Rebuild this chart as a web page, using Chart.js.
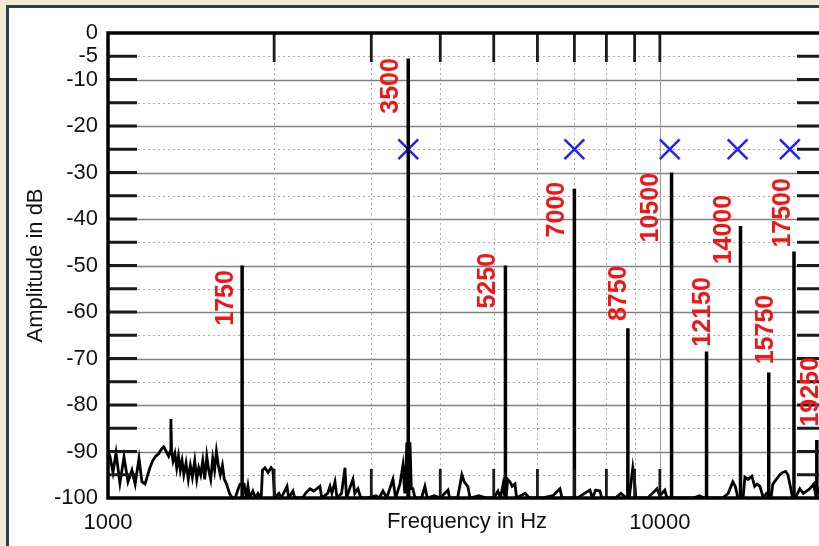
<!DOCTYPE html>
<html>
<head>
<meta charset="utf-8">
<title>Spectrum</title>
<script src="https://cdn.jsdelivr.net/npm/chart.js@4.4.0/dist/chart.umd.min.js"></script>
<style>
    html, body { margin: 0; padding: 0; width: 819px; height: 546px; overflow: hidden; background: #f3ead3; }
    #panel { position: absolute; left: 6px; top: 5px; width: 900px; height: 600px; background: #fff;
             border: 3px solid #2d3c57; box-sizing: border-box; }
    #wrap { position: absolute; left: 0; top: 0; width: 860px; height: 546px; }
</style>
</head>
<body>
<div id="panel"></div>
<div id="wrap"><canvas id="spectrum" width="860" height="546"></canvas></div>
<script>
// Harmonic peaks (Hz / dB)
const harmonicHz = [1750, 3500, 5250, 7000, 8750, 10500, 12150, 14000, 15750, 17500, 19250];
const harmonicDb = [-50, -5.5, -50, -33.5, -63.5, -30, -68.5, -41.5, -73, -47, -87.5];

// where each red label sits (Hz of its centre, dB of its upper end)
const labelHz = [1636, 3256, 4880, 6508, 8428, 9632, 11990, 13085, 15590, 16700, 18770];
const labelDb = [-51, -5.4, -47.3, -32, -50, -30.1, -52.5, -34.8, -56.3, -31.2, -69.7];

// blue crosses
const markerHz = [3500, 7000, 10420, 13830, 17200];
const markerDb = [-25, -25, -25, -25, -25];

// noise floor trace
const noiseHz = [
    1000, 1008, 1021, 1034, 1051, 1069, 1087, 1105, 1120, 1138, 1152, 1167,
    1191, 1205, 1220, 1235, 1250, 1262, 1275, 1288, 1296, 1300, 1304, 1312, 1322, 1332, 1342,
    1352, 1362, 1372, 1385, 1398, 1410, 1422, 1436, 1448, 1460, 1472, 1485, 1497, 1510, 1522, 1535,
    1548, 1560, 1572, 1585, 1598, 1612, 1625, 1640, 1660, 1680, 1700, 1722, 1735,
    1765, 1780, 1793, 1805, 1830, 1850, 1870, 1895, 1905, 1925, 1950, 1975, 1990, 2005, 2040, 2060,
    2110, 2125, 2163, 2180, 2250, 2280, 2323, 2360, 2421, 2440, 2500, 2525, 2545, 2578, 2600, 2650,
    2688, 2705, 2740, 2779, 2800, 2838, 2870, 2950, 3060, 3100, 3149, 3200, 3283, 3320, 3381, 3423,
    3450, 3480, 3495, 3510, 3525, 3545, 3568, 3600, 3700, 3752, 3790, 3900, 4000, 4130, 4160, 4300,
    4378, 4420, 4489, 4530, 4700, 4850, 5000, 5089, 5140, 5200, 5240, 5265, 5300, 5350, 5400, 5463,
    5500, 5700, 5800, 6100, 6400, 6590, 6650, 6900, 7100, 7300, 7468, 7550, 7650, 7787, 7850, 8300,
    8500, 8700, 8800, 8933, 8990, 9050, 9500, 9700, 9876, 10000, 10210, 10300, 11500, 11800, 12000,
    12300, 13000, 13300, 13560, 13700, 13850, 14150, 14260, 14450, 14680, 14850, 15000, 15180, 15400,
    15600, 15900, 16020, 16250, 16500, 16700, 16900, 17060, 17200, 17400, 17600, 17930, 18200, 18700,
    19000, 19200, 19400, 20000
];
const noiseDb = [
    -90, -91, -94.5, -90.3, -96.8, -91.2, -96.5, -94, -97, -91.5, -96.5, -97,
    -93.5, -92, -91, -90.5, -89.5, -89, -90, -91, -90, -83, -90, -92, -90.5, -93.5, -91,
    -94, -92, -95, -92.5, -96, -93, -95.5, -92, -96, -93.5, -95, -92, -96, -91, -94, -96,
    -91.5, -94, -90, -93, -95, -93, -96, -97, -99, -100, -100, -98, -97,
    -97, -100, -97.5, -100, -98.5, -100, -99, -100, -94, -93.5, -94.5, -93.5, -94, -100, -99, -100,
    -97.5, -100, -98.5, -100, -100, -99, -98, -98.5, -97.5, -100, -99, -97.5, -99, -96.5, -100, -99,
    -93.5, -100, -98, -96, -99, -98, -100, -100, -99.5, -100, -98.5, -100, -96, -100, -97, -93,
    -99, -88, -100, -100, -88, -98, -98, -100, -100, -97.5, -100, -99.5, -100, -98.3, -100, -100,
    -95, -96.5, -97.6, -100, -99.5, -100, -100, -98.5, -100, -97, -100, -100, -96, -96.5, -97.5, -97,
    -100, -99, -100, -100, -99.5, -98, -100, -100, -100, -99, -98.3, -100, -98.3, -98.5, -100, -100,
    -99, -100, -100, -93.5, -96, -100, -100, -99, -98, -99.5, -98.3, -100, -100, -99.5, -100,
    -100, -100, -99, -96.5, -97.5, -100, -100, -95.5, -96, -95.3, -97.5, -97, -97.5, -100,
    -99, -100, -97, -96, -95, -94.5, -94.3, -95, -97, -100, -100, -98, -99, -98,
    -97, -100, -98, -99
];

// axis ticks
const xTicks = [1000, 10000];
const yTicks = [0, -5, -10, -20, -30, -40, -50, -60, -70, -80, -90, -100];
const xGridHz = [2000, 3000, 4000, 5000, 6000, 7000, 8000, 9000, 10000, 20000];

const fontFamily = '"Liberation Sans", Arial, Helvetica, sans-serif';
Chart.defaults.font.family = fontFamily;

// spikes as vertical segments separated by gaps
const spikePoints = [];
harmonicHz.forEach((f, i) => {
    spikePoints.push({ x: f, y: -100 }, { x: f, y: harmonicDb[i] }, { x: f, y: null });
});

// Grid, inward ticks, frame and red labels
const frameLines = {
    id: 'frameLines',
    beforeDatasetsDraw(chart) {
        const { ctx, chartArea: a, scales: { x, y } } = chart;
        ctx.save();
        for (let v = -95; v <= -5; v += 5) {
            const py = Math.round(y.getPixelForValue(v)) + 0.5;
            if (v % 10 === 0) {
                ctx.setLineDash([]);
                ctx.strokeStyle = '#808080';
                ctx.lineWidth = 1.5;
            } else {
                ctx.setLineDash([2, 3]);
                ctx.strokeStyle = '#aaaaaa';
                ctx.lineWidth = 1;
            }
            ctx.beginPath();
            ctx.moveTo(a.left, py);
            ctx.lineTo(a.right, py);
            ctx.stroke();
        }
        xGridHz.forEach(f => {
            const px = Math.round(x.getPixelForValue(f)) + 0.5;
            if (f === 10000) {
                ctx.setLineDash([]);
                ctx.strokeStyle = '#9a9a9a';
            } else {
                ctx.setLineDash([2, 3]);
                ctx.strokeStyle = '#aaaaaa';
            }
            ctx.lineWidth = 1;
            ctx.beginPath();
            ctx.moveTo(px, a.top);
            ctx.lineTo(px, a.bottom);
            ctx.stroke();
        });
        ctx.restore();
    },
    afterDatasetsDraw(chart) {
        const { ctx, chartArea: a, scales: { x, y } } = chart;
        const tickLen = 29;
        ctx.save();
        ctx.setLineDash([]);
        ctx.strokeStyle = '#1a1a1a';
        ctx.lineWidth = 2.8;
        ctx.beginPath();
        xGridHz.forEach(f => {
            const px = x.getPixelForValue(f);
            ctx.moveTo(px, a.top);
            ctx.lineTo(px, a.top + tickLen);
            ctx.moveTo(px, a.bottom);
            ctx.lineTo(px, a.bottom - tickLen);
        });
        for (let v = -95; v <= -5; v += 5) {
            const py = y.getPixelForValue(v);
            ctx.moveTo(a.left, py);
            ctx.lineTo(a.left + tickLen, py);
            ctx.moveTo(a.right, py);
            ctx.lineTo(a.right - tickLen, py);
        }
        ctx.stroke();

        // axes box
        ctx.strokeStyle = '#000';
        ctx.lineWidth = 3.5;
        ctx.strokeRect(a.left, a.top, a.right - a.left, a.bottom - a.top);

        // red frequency labels
        ctx.fillStyle = '#f01616';
        ctx.font = 'bold 25px ' + fontFamily;
        ctx.textAlign = 'right';
        ctx.textBaseline = 'middle';
        harmonicHz.forEach((f, i) => {
            ctx.save();
            ctx.translate(x.getPixelForValue(labelHz[i]), y.getPixelForValue(labelDb[i]));
            ctx.rotate(-Math.PI / 2);
            ctx.fillText(String(f), 0, 0);
            ctx.restore();
        });
        ctx.restore();
    }
};

new Chart(document.getElementById('spectrum'), {
    type: 'line',
    data: {
        datasets: [
            {
                label: 'noise',
                data: noiseHz.map((f, i) => ({ x: f, y: noiseDb[i] })),
                borderColor: '#000',
                borderWidth: 2.8,
                pointRadius: 0,
                tension: 0
            },
            {
                label: 'harmonics',
                data: spikePoints,
                borderColor: '#000',
                borderWidth: 3.5,
                pointRadius: 0,
                spanGaps: false
            },
            {
                label: 'markers',
                data: markerHz.map((f, i) => ({ x: f, y: markerDb[i] })),
                showLine: false,
                pointStyle: 'crossRot',
                pointRadius: 14,
                pointBorderWidth: 2.5,
                borderColor: '#2020ff',
                clip: false
            }
        ]
    },
    options: {
        responsive: false,
        animation: false,
        devicePixelRatio: 1,
        layout: { padding: { top: 33, right: 34, left: 0, bottom: 0 } },
        plugins: {
            legend: { display: false },
            tooltip: { enabled: false }
        },
        scales: {
            x: {
                type: 'logarithmic',
                min: 1000,
                max: 20000,
                afterBuildTicks: s => { s.ticks = xTicks.map(v => ({ value: v })); },
                afterFit: s => { s.height = 48; },
                grid: { display: false, drawTicks: false },
                border: { display: false },
                ticks: {
                    color: '#111',
                    font: { size: 22 },
                    padding: 12,
                    maxRotation: 0,
                    autoSkip: false,
                    callback: v => String(v)
                },
                title: {
                    display: true,
                    text: 'Frequency in Hz',
                    color: '#111',
                    font: { size: 22 },
                    padding: { top: 0, bottom: 11 }
                }
            },
            y: {
                type: 'linear',
                min: -100,
                max: 0,
                afterBuildTicks: s => { s.ticks = yTicks.map(v => ({ value: v })); },
                afterFit: s => { s.width = 108; },
                grid: { display: false, drawTicks: false },
                border: { display: false },
                ticks: {
                    color: '#111',
                    font: { size: 22 },
                    padding: 10,
                    callback: v => String(v)
                },
                title: {
                    display: true,
                    text: 'Amplitude in dB',
                    color: '#111',
                    font: { size: 22 },
                    padding: { top: 23, bottom: 0 }
                }
            }
        }
    },
    plugins: [frameLines]
});
</script>
</body>
</html>
